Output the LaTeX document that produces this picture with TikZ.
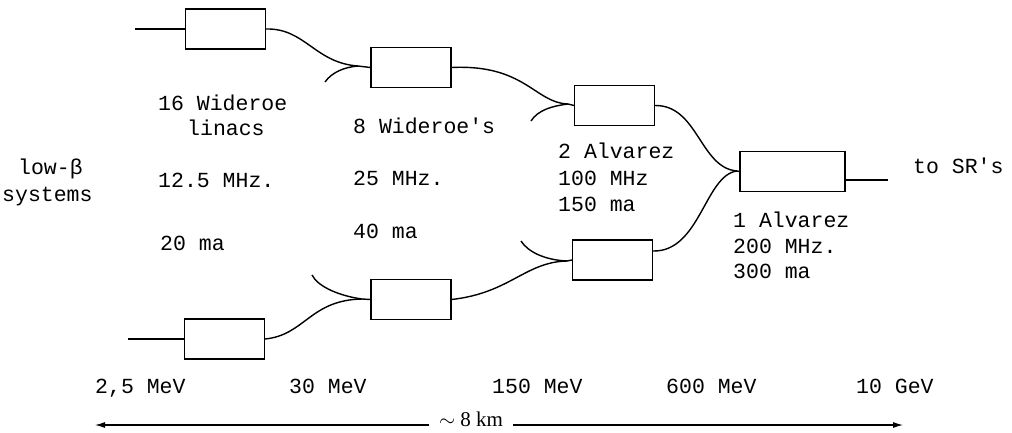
\documentclass[tikz,border=0pt]{standalone}
\usepackage{fontspec}
\setmainfont{Liberation Serif}
\setmonofont{Liberation Mono}
\usetikzlibrary{arrows.meta}

\begin{document}
\begin{tikzpicture}[x=1pt,y=-1pt,
  linac/.style={draw, line width=1.1pt, minimum width=80pt, minimum height=40pt, inner sep=0pt},
  lbl/.style={anchor=base west, inner sep=0pt, font=\fontsize{21.5}{24}\ttfamily},
  beam/.style={line width=1.4pt},
  feed/.style={line width=1.1pt},
  arr/.style={line width=1.1pt, -{Latex[length=10pt,width=6pt]}}]
  \useasboundingbox (0,0) rectangle (1012,432);

  \node[linac] (wid16a) at (225.5,29) {};
  \node[linac] (wid8a) at (411,67.5) {};
  \node[linac] (alvA) at (614.5,105.5) {};
  \node[linac, minimum width=105pt] (alv1) at (792.5,171.5) {};
  \node[linac] (alvB) at (612.5,260) {};
  \node[linac] (wid8b) at (411,299.5) {};
  \node[linac] (wid16b) at (224.5,339) {};

  \coordinate (in1) at (135,29);
  \coordinate (in2) at (128,339);
  \coordinate (srend) at (888,180);
  \coordinate (c1) at (358,66);
  \coordinate (br1) at (325,82);
  \coordinate (c2) at (568,104);
  \coordinate (br2) at (531,121);
  \coordinate (c3) at (737,171);
  \coordinate (c5) at (567,261);
  \coordinate (br5) at (521,241);
  \coordinate (c6) at (362,299);
  \coordinate (br6) at (312,275);

  \draw[feed] (in1) -- (wid16a.west);
  \draw[feed] (in2) -- (wid16b.west);
  \draw[beam] (wid16a.east) .. controls (305,28) and (315,63) .. (c1) -- (wid8a.west);
  \draw[beam] (br1) .. controls (332,72) and (345,67) .. (c1);
  \draw[beam] (wid8a.east) .. controls (525,64) and (535,103) .. (c2) -- (alvA.west);
  \draw[beam] (br2) .. controls (538,110) and (552,106) .. (c2);
  \draw[beam] (alvA.east) .. controls (698,105) and (700,168) .. (c3) -- (alv1.west);
  \draw[beam] ([yshift=9pt]alvB.east) .. controls (700,252) and (705,175) .. (c3);
  \draw[beam] (wid16b.east) .. controls (305,335) and (310,300) .. (c6) -- (wid8b.west);
  \draw[beam] (br6) .. controls (318,287) and (340,296) .. (c6);
  \draw[beam] (wid8b.east) .. controls (510,293) and (525,262) .. (c5) -- (alvB.west);
  \draw[beam] (br5) .. controls (528,252) and (545,260) .. (c5);
  \draw[feed] (alv1.east |- srend) -- (srend);

  \node[lbl] (n16) at (158,110) {16 Wideroe};
  \node[lbl] (linacs) at (187,135) {linacs};
  \node[lbl] (lowb) at (18,174) {low-β};
  \node[lbl] (sys) at (2,201) {systems};
  \node[lbl] (f16) at (158,187) {12.5 MHz.};
  \node[lbl] (i16) at (160,250) {20 ma};
  \node[lbl] (n8) at (353,133) {8 Wideroe's};
  \node[lbl] (f8) at (353,185) {25 MHz.};
  \node[lbl] (i8) at (353,238) {40 ma};
  \node[lbl] (n2) at (558,158) {2 Alvarez};
  \node[lbl] (f2) at (558,185) {100 MHz};
  \node[lbl] (i2) at (558,211) {150 ma};
  \node[lbl] (n1) at (733,227) {1 Alvarez};
  \node[lbl] (f1) at (733,253) {200 MHz.};
  \node[lbl] (i1) at (733,278) {300 ma};
  \node[lbl] (sr) at (913,173) {to SR's};

  \node[lbl] (e1) at (95,393) {2,5 MeV};
  \node[lbl] (e2) at (289,393) {30 MeV};
  \node[lbl] (e3) at (492,393) {150 MeV};
  \node[lbl] (e4) at (666,393) {600 MeV};
  \node[lbl] (e5) at (856,393) {10 GeV};

  \coordinate (dleft) at (95,425);
  \coordinate (dright) at (903,425);
  \node[inner xsep=10pt, inner ysep=0pt, font=\fontsize{21}{24}\selectfont] (dist) at (471,419) {$\sim$ 8 km};
  \draw[arr] (dist.west |- dleft) -- (dleft);
  \draw[arr] (dist.east |- dright) -- (dright);
\end{tikzpicture}
\end{document}
